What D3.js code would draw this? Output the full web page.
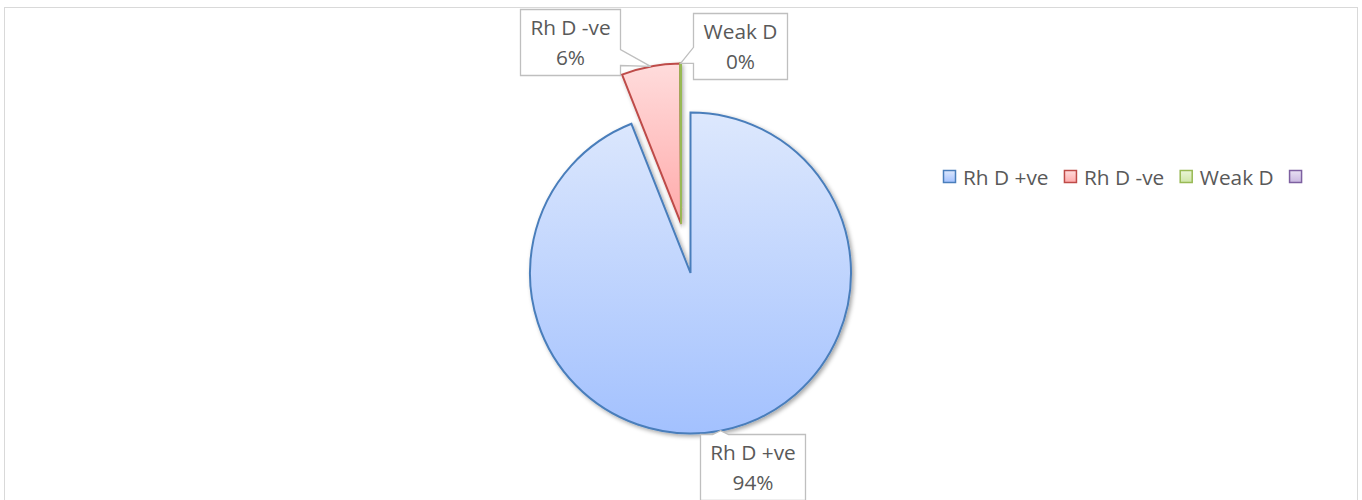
<!DOCTYPE html>
<html>
<head>
<meta charset="utf-8">
<script src="https://cdn.jsdelivr.net/npm/d3@7"></script>
<style>
  html, body { margin: 0; padding: 0; background: #fff; }
  svg { display: block; }
  text { font-family: "Open Sans", "DejaVu Sans", sans-serif; fill: #595959; }
</style>
</head>
<body>
<svg id="chart" width="1362" height="500"></svg>
<script>
// ---- data ----
const categories = ["Rh D +ve", "Rh D -ve", "Weak D", ""];
const values = [94.0, 5.9, 0.1, 0];
const percentLabels = ["94%", "6%", "0%", ""];
const exploded = [false, true, true, false];

// ---- styles ----
const strokeColors = ["#4a7ebb", "#be4b48", "#98b954", "#7d60a0"];
const gradTop = ["#dde8fd", "#ffdcdc", "#ebf5d8", "#e8e0f2"];
const gradBottom = ["#a3c1fe", "#ffaaaa", "#cfe6a8", "#c9b8e0"];

const W = 1362, H = 500;
const cx = 690.5, cy = 273, R = 160.5, explodeDist = 50;
const fontSize = 20.8;

const svg = d3.select("#chart");
const defs = svg.append("defs");

categories.forEach((c, i) => {
  const g = defs.append("linearGradient").attr("id", "grad" + i)
    .attr("x1", 0).attr("y1", 0).attr("x2", 0).attr("y2", 1);
  g.append("stop").attr("offset", "0%").attr("stop-color", gradTop[i]);
  g.append("stop").attr("offset", "100%").attr("stop-color", gradBottom[i]);
});
const f = defs.append("filter").attr("id", "shadow")
  .attr("x", "-20%").attr("y", "-20%").attr("width", "140%").attr("height", "140%");
f.append("feDropShadow").attr("dx", 2).attr("dy", 2).attr("stdDeviation", 2)
  .attr("flood-color", "#000").attr("flood-opacity", 0.35);

// chart frame
svg.append("rect").attr("x", 4.5).attr("y", 7.5).attr("width", 1353).attr("height", 600)
  .attr("fill", "#fff").attr("stroke", "#d9d9d9").attr("stroke-width", 1);

const pie = d3.pie().sort(null).value(d => d.v);
const data = categories.map((c, i) => ({ c, v: values[i], i }));
const arcs = pie(data);
const arcGen = d3.arc().innerRadius(0).outerRadius(R);

// shared explode direction: mid-angle of the combined exploded group
const exArcs = arcs.filter(a => exploded[a.data.i] && a.data.v > 0);
const exStart = d3.min(exArcs, a => a.startAngle), exEnd = d3.max(exArcs, a => a.endAngle);
const exMid = (exStart + exEnd) / 2;
const exDx = explodeDist * Math.sin(exMid), exDy = -explodeDist * Math.cos(exMid);

function offsetOf(a) {
  return exploded[a.data.i] ? [exDx, exDy] : [0, 0];
}

const pieG = svg.append("g").attr("transform", `translate(${cx},${cy})`);
pieG.selectAll("path.slice").data(arcs.filter(a => a.data.v > 0)).join("path")
  .attr("class", "slice")
  .attr("transform", d => { const o = offsetOf(d); return `translate(${o[0]},${o[1]})`; })
  .attr("d", arcGen)
  .attr("fill", d => `url(#grad${d.data.i})`)
  .attr("stroke", d => strokeColors[d.data.i])
  .attr("stroke-width", 2)
  .attr("stroke-linejoin", "miter")
  .attr("filter", "url(#shadow)");

// ---- data labels (callouts) ----
// label box offsets relative to the slice's outer-arc anchor
const labelOffsets = [[32, 36], [-80.5, -24], [59, -17.5]];
const labelG = svg.append("g");

function measure(txt) {
  const t = svg.append("text").attr("font-size", fontSize).text(txt);
  const w = t.node().getComputedTextLength();
  t.remove();
  return w;
}

function calloutPath(x0, y0, x1, y1, ax, ay) {
  const hw = 8;
  const clamp = (v, lo, hi) => Math.max(lo, Math.min(hi, v));
  const bcx = (x0 + x1) / 2, bcy = (y0 + y1) / 2;
  let side;
  if (ax > x1) side = "right";
  else if (ax < x0) side = "left";
  else if (ay < y0) side = "top";
  else side = "bottom";
  let p = [];
  if (side === "right" || side === "left") {
    let c = clamp(ay, y0 + 10, y1 - 10);
    c += Math.sign(bcy - c) * Math.min(8, Math.abs(bcy - c));
    const b0 = c - hw, b1 = c + hw;
    if (side === "right") {
      p = [[x0, y0], [x1, y0], [x1, b0], [ax, ay], [x1, b1], [x1, y1], [x0, y1]];
    } else {
      p = [[x0, y0], [x1, y0], [x1, y1], [x0, y1], [x0, b1], [ax, ay], [x0, b0]];
    }
  } else {
    let c = clamp(ax, x0 + 10, x1 - 10);
    const b0 = c - hw, b1 = c + hw;
    if (side === "top") {
      p = [[x0, y0], [b0, y0], [ax, ay], [b1, y0], [x1, y0], [x1, y1], [x0, y1]];
    } else {
      p = [[x0, y0], [x1, y0], [x1, y1], [b1, y1], [ax, ay], [b0, y1], [x0, y1]];
    }
  }
  return "M" + p.map(q => q.join(",")).join("L") + "Z";
}

arcs.forEach(a => {
  const i = a.data.i;
  if (!labelOffsets[i]) return;
  const o = offsetOf(a);
  const mid = (a.startAngle + a.endAngle) / 2;
  const ax = cx + o[0] + R * Math.sin(mid);
  const ay = cy + o[1] - R * Math.cos(mid);
  const bx = ax + labelOffsets[i][0], by = ay + labelOffsets[i][1];
  const tw = Math.max(measure(categories[i]), measure(percentLabels[i]));
  const bw = tw + 20, bh = 66;
  const x0 = Math.round(bx - bw / 2) + 0.5, y0 = Math.round(by - bh / 2) + 0.5;
  const x1 = x0 + Math.round(bw), y1 = y0 + bh;
  labelG.append("path").attr("d", calloutPath(x0, y0, x1, y1, ax, ay))
    .attr("fill", "#fff").attr("stroke", "#bfbfbf").attr("stroke-width", 1.3);
  labelG.append("text").attr("x", (x0 + x1) / 2).attr("y", by - 15)
    .attr("text-anchor", "middle").attr("dominant-baseline", "central")
    .attr("font-size", fontSize).text(categories[i]);
  labelG.append("text").attr("x", (x0 + x1) / 2).attr("y", by + 15)
    .attr("text-anchor", "middle").attr("dominant-baseline", "central")
    .attr("font-size", fontSize).text(percentLabels[i]);
});

// ---- legend ----
const legendG = svg.append("g");
let lx = 943.5;
const ly = 177;
categories.forEach((c, i) => {
  legendG.append("rect").attr("x", lx).attr("y", ly - 6.5).attr("width", 12).attr("height", 12)
    .attr("fill", `url(#grad${i})`).attr("stroke", strokeColors[i]).attr("stroke-width", 1.5);
  const t = legendG.append("text").attr("x", lx + 19.5).attr("y", ly)
    .attr("dominant-baseline", "central").attr("font-size", fontSize).text(c);
  const w = c ? t.node().getComputedTextLength() : 0;
  lx = lx + 19.5 + w + 16;
});
</script>
</body>
</html>
